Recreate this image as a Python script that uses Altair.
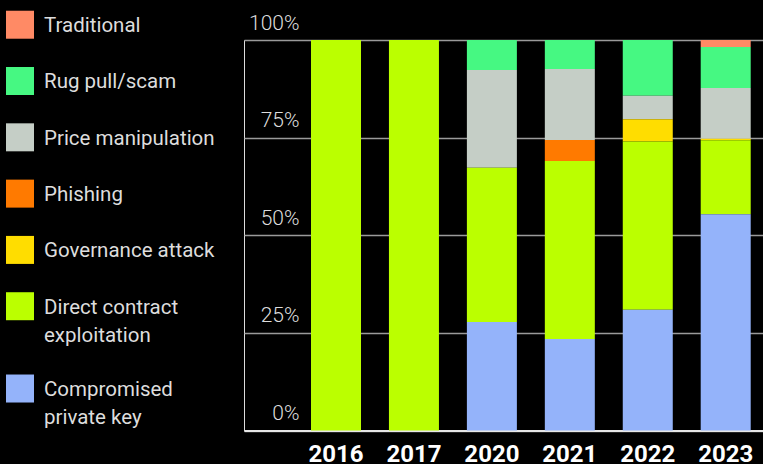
import altair as alt
import pandas as pd

years = ["2016", "2017", "2020", "2021", "2022", "2023"]
categories = [
    "Traditional",
    "Rug pull/scam",
    "Price manipulation",
    "Phishing",
    "Governance attack",
    "Direct contract exploitation",
    "Compromised private key",
]
colors = ["#ff8a65", "#46f882", "#c5cec6", "#ff7a00", "#ffdd00", "#bbff00", "#94b3fa"]

traditional = [0, 0, 0, 0, 0, 1.8]
rug_pull = [0, 0, 7.7, 7.4, 14.3, 10.5]
price_manipulation = [0, 0, 25.0, 18.2, 6.0, 13.0]
phishing = [0, 0, 0, 5.4, 0, 0]
governance = [0, 0, 0, 0, 5.7, 0.4]
direct_contract = [100, 100, 39.5, 45.6, 43.1, 18.9]
private_key = [0, 0, 27.8, 23.4, 30.9, 55.4]

series = [traditional, rug_pull, price_manipulation, phishing, governance,
          direct_contract, private_key]

rows = []
for rank, (cat, vals) in enumerate(zip(categories, series)):
    for yr, v in zip(years, vals):
        if v > 0:
            rows.append({"year": yr, "category": cat, "share": v, "rank": rank})
df = pd.DataFrame(rows)

label_expr = (
    "datum.label == 'Direct contract exploitation' ? ['Direct contract', 'exploitation'] : "
    "datum.label == 'Compromised private key' ? ['Compromised', 'private key'] : datum.label"
)

chart = alt.Chart(df).mark_bar().encode(
    x=alt.X(
        "year:N",
        sort=years,
        scale=alt.Scale(paddingInner=0.3585, paddingOuter=0.5087, align=0.845),
        axis=alt.Axis(
            title=None, labelAngle=0, ticks=False, grid=False,
            domain=True, domainColor="#e6e6e6", domainWidth=2,
            labelFont="Roboto", labelFontSize=24, labelFontWeight="bold",
            labelColor="#ffffff", labelBaseline="alphabetic", labelPadding=31,
        ),
    ),
    y=alt.Y(
        "share:Q",
        stack="zero",
        scale=alt.Scale(domain=[0, 100], nice=False),
        axis=alt.Axis(
            title=None, values=[0, 25, 50, 75, 100], labelExpr="datum.value + '%'",
            ticks=False, domain=False, grid=True, gridColor="#9a9a9a", gridWidth=1.5,
            labelFont="Roboto", labelFontSize=21, labelFontWeight=300,
            labelColor="#dddddd", labelAlign="right", labelBaseline="alphabetic",
            labelPadding=-55, labelOffset=-11, labelFlush=False, labelOverlap=False,
        ),
    ),
    color=alt.Color(
        "category:N",
        scale=alt.Scale(domain=categories, range=colors),
        legend=alt.Legend(
            orient="none", legendX=-238, legendY=-22, title=None, padding=0,
            symbolType="M-1,-1.52H1V0.48H-1Z", symbolSize=784, symbolStrokeWidth=0,
            symbolOpacity=1,
            labelFont="Roboto", labelFontSize=20.5, labelColor="#dddddd",
            labelBaseline="alphabetic", labelOffset=10, labelLimit=400,
            rowPadding=27.3, labelExpr=label_expr,
        ),
    ),
    order=alt.Order("rank:Q", sort="descending"),
).properties(
    width=519,
    height=390.5,
    background="#000000",
    padding={"left": 244, "top": 40, "right": 0, "bottom": 33.5},
    autosize=alt.AutoSizeParams(type="none"),
).configure_view(stroke=None).configure(
    style={"guide-label": {"lineHeight": 28}}
)

chart.save("out.html", embed_options={"renderer": "svg", "actions": False})
